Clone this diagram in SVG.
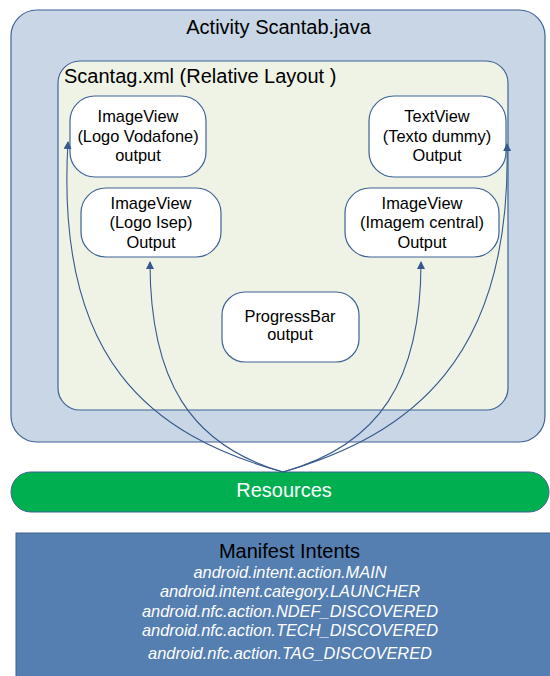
<svg xmlns="http://www.w3.org/2000/svg" width="550" height="676" viewBox="0 0 550 676">
<style>
text{font-family:"Liberation Sans",Arial,sans-serif;fill:#000}
.title{font-size:20px}
.node rect{fill:#fff;stroke:#3E6396;stroke-width:1.2}
.node text{font-size:16.4px;text-anchor:middle}
.conn path{fill:none;stroke:#35598C;stroke-width:1.1}
.intent{font-size:16.4px;font-style:italic;fill:#fff;text-anchor:middle}
</style>
<defs>
<marker id="arr" markerWidth="8" markerHeight="10" refX="7" refY="4" orient="auto" markerUnits="userSpaceOnUse">
<path d="M0,0 L8,4 L0,8 z" fill="#35598C"/>
</marker>
</defs>
<g id="activity">
<rect x="11" y="10" width="534" height="432" rx="26" fill="#C8D6E6" stroke="#3E6396" stroke-width="1.2"/>
<text class="title" x="278.5" y="34" text-anchor="middle">Activity Scantab.java</text>
</g>
<g id="scantag">
<rect x="58" y="61" width="450" height="349" rx="22" fill="#EFF3E6" stroke="#3E6396" stroke-width="1.2"/>
<text class="title" x="64" y="83">Scantag.xml (Relative Layout )</text>
</g>
<g id="vodafone" class="node">
<rect x="70" y="96" width="136" height="81" rx="25"/>
<text x="138" y="122">ImageView</text>
<text x="138" y="142">(Logo Vodafone)</text>
<text x="138" y="161">output</text>
</g>
<g id="textview" class="node">
<rect x="369" y="96" width="137" height="81" rx="25"/>
<text x="437" y="122">TextView</text>
<text x="437" y="142">(Texto dummy)</text>
<text x="437" y="161">Output</text>
</g>
<g id="isep" class="node">
<rect x="81" y="188" width="140" height="69" rx="25"/>
<text x="151" y="209">ImageView</text>
<text x="151" y="228">(Logo Isep)</text>
<text x="151" y="248">Output</text>
</g>
<g id="central" class="node">
<rect x="345" y="188" width="154" height="69" rx="25"/>
<text x="422" y="209">ImageView</text>
<text x="422" y="228">(Imagem central)</text>
<text x="422" y="248">Output</text>
</g>
<g id="progressbar" class="node">
<rect x="222" y="292" width="137" height="70" rx="23"/>
<text x="290" y="322">ProgressBar</text>
<text x="290" y="340">output</text>
</g>
<g id="resources">
<rect x="11" y="472" width="538" height="40" rx="20" fill="#00B050" stroke="#3E6396" stroke-width="1"/>
<text class="title" x="284" y="497" text-anchor="middle" style="fill:#fff">Resources</text>
</g>
<g id="manifest">
<rect x="16" y="533" width="545" height="150" fill="#557EB1" stroke="#3E6396" stroke-width="1"/>
<text class="title" x="289.5" y="558" text-anchor="middle">Manifest Intents</text>
<text class="intent" x="290" y="578">android.intent.action.MAIN</text>
<text class="intent" x="290" y="597">android.intent.category.LAUNCHER</text>
<text class="intent" x="290" y="617">android.nfc.action.NDEF_DISCOVERED</text>
<text class="intent" x="290" y="636">android.nfc.action.TECH_DISCOVERED</text>
<text class="intent" x="290" y="659">android.nfc.action.TAG_DISCOVERED</text>
</g>
<g id="connectors" class="conn">
<path d="M283,472 C150,435 55,360 68,142" marker-end="url(#arr)"/>
<path d="M283,472 C190,445 150,380 150,262" marker-end="url(#arr)"/>
<path d="M283,472 C380,445 421,380 421,262" marker-end="url(#arr)"/>
<path d="M283,472 C410,435 512,360 507,144" marker-end="url(#arr)"/>
</g>
</svg>
